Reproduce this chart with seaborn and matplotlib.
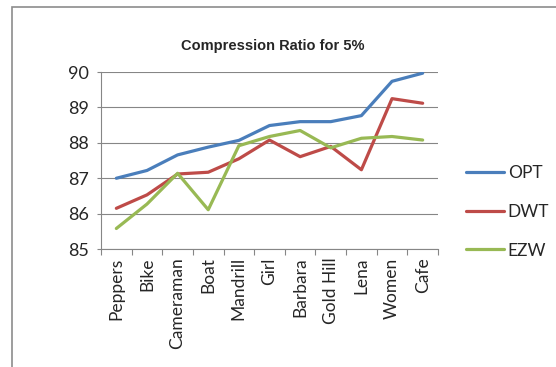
import numpy as np
import pandas as pd
import seaborn as sns
import matplotlib.pyplot as plt
from matplotlib.patches import Rectangle
from matplotlib.ticker import FixedLocator

# data
images = ["Peppers", "Bike", "Cameraman", "Boat", "Mandrill", "Girl",
          "Barbara", "Gold Hill", "Lena", "Women", "Cafe"]
opt = [87.00, 87.22, 87.66, 87.88, 88.07, 88.49, 88.60, 88.60, 88.77, 89.74, 89.97]
dwt = [86.15, 86.53, 87.12, 87.17, 87.55, 88.08, 87.61, 87.90, 87.24, 89.25, 89.12]
ezw = [85.58, 86.27, 87.14, 86.11, 87.92, 88.18, 88.35, 87.86, 88.13, 88.18, 88.08]
methods = ["OPT", "DWT", "EZW"]
colors = ["#4A7EBB", "#BE4B48", "#98B954"]

df = pd.DataFrame({
    "pos": list(range(len(images))) * 3,
    "ratio": opt + dwt + ezw,
    "method": np.repeat(methods, len(images)),
})

sns.set_style("white")
plt.rcParams['font.family'] = ['Lato', 'DejaVu Sans']

fig = plt.figure(figsize=(5.56, 3.67), dpi=100)
ax = fig.add_axes([0.1817, 0.3215, 0.606, 0.482])

sns.lineplot(data=df, x="pos", y="ratio", hue="method", hue_order=methods,
             palette=colors, linewidth=2.3, ax=ax)

ax.set_xlim(-0.5, len(images) - 0.5)
ax.set_ylim(85, 90)
ax.set_yticks([85, 86, 87, 88, 89, 90])
ax.set_xticks(range(len(images)))
ax.set_xticklabels(images, rotation=90, fontsize=12.5)
ax.xaxis.set_minor_locator(FixedLocator(np.arange(-0.5, len(images), 1)))
ax.tick_params(axis="x", which="major", length=0, pad=6)
ax.tick_params(axis="x", which="minor", length=4, color="#868686", width=0.8, bottom=True)
ax.tick_params(axis="y", length=3, color="#868686", width=0.8, labelsize=13, left=True, pad=6)
ax.set_xlabel("")
ax.set_ylabel("")
ax.grid(axis="y", color="#868686", linewidth=0.8)
ax.set_axisbelow(True)
for s in ["top", "right"]:
    ax.spines[s].set_visible(False)
ax.spines["left"].set_color("#868686")
ax.spines["bottom"].set_color("#868686")
ax.spines["left"].set_linewidth(0.8)
ax.spines["bottom"].set_linewidth(0.8)

fig.text(0.49, 1 - 46 / 367, "Compression Ratio for 5%", ha="center", va="center",
         fontsize=10.5, fontweight="bold", family=["Liberation Sans", "DejaVu Sans"])

ax.legend(title=None, frameon=False, loc="center left",
          bbox_to_anchor=(466 / 556, 1 - 212 / 367), bbox_transform=fig.transFigure,
          borderaxespad=0, borderpad=0,
          fontsize=12.5, handlelength=2.2, handletextpad=0.2, labelspacing=1.3)

# chart frame
fig.patches.append(Rectangle((12 / 556, -0.2), 1.2, 1.2 - 7 / 367 + 0.0,
                             transform=fig.transFigure, fill=False,
                             edgecolor="#8C8C8C", linewidth=1.2))

fig.savefig("out.png", dpi=100)
